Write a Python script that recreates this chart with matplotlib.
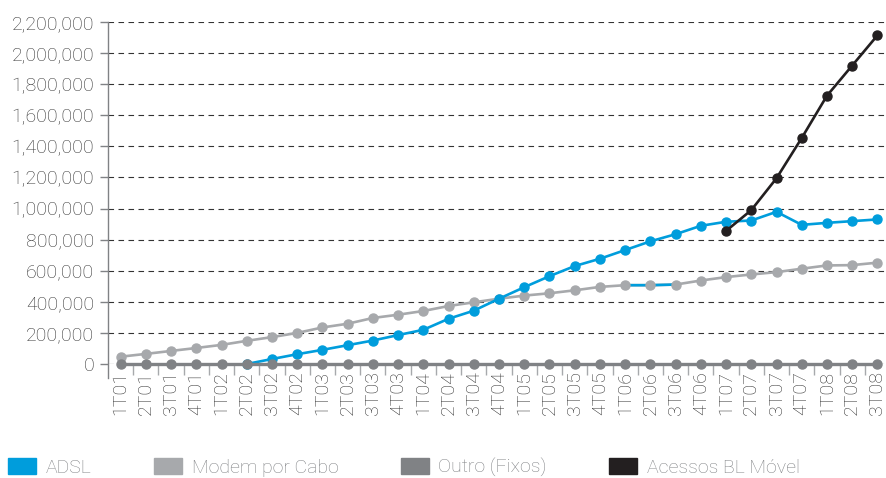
import matplotlib
matplotlib.use("Agg")
import matplotlib.pyplot as plt
from matplotlib.patches import Patch
from matplotlib.ticker import FuncFormatter, FixedLocator
import numpy as np

plt.rcParams['font.family'] = ['Roboto', 'DejaVu Sans']
plt.rcParams['font.weight'] = 'light'

# --- data ---
quarters = ["1T01", "2T01", "3T01", "4T01", "1T02", "2T02", "3T02", "4T02",
            "1T03", "2T03", "3T03", "4T03", "1T04", "2T04", "3T04", "4T04",
            "1T05", "2T05", "3T05", "4T05", "1T06", "2T06", "3T06", "4T06",
            "1T07", "2T07", "3T07", "4T07", "1T08", "2T08", "3T08"]

nan = np.nan
adsl = [nan, nan, nan, nan, nan, 0, 32000, 63000,
        91000, 121000, 151000, 186000, 220000, 291000, 343000, 420000,
        494000, 565000, 630000, 677000, 733000, 789000, 835000, 889000,
        915000, 923000, 979000, 895000, 908000, 919000, 930000]
cabo = [47000, 65000, 84000, 103000, 123000, 149000, 173000, 200000,
        235000, 259000, 296000, 317000, 341000, 373000, 397000, 420000,
        440000, 455000, 474000, 496000, 507000, 507000, 511000, 537000,
        559000, 576000, 591000, 613000, 634000, 636000, 652000]
outro = [0] * len(quarters)
movel = [nan] * 24 + [856000, 990000, 1195000, 1454000, 1726000, 1920000, 2114000]

labels = ["ADSL", "Modem por Cabo", "Outro (Fixos)", "Acessos BL Móvel"]
c_adsl, c_cabo, c_outro, c_movel = "#009ddc", "#a7a9ac", "#808285", "#231f20"

x = np.arange(len(quarters))

fig = plt.figure(figsize=(8.87, 4.78), dpi=100)
ax = fig.add_axes([108 / 887, 1 - 364 / 478, 777 / 887, 342 / 478])

lw, ms = 1.9, 6.5
# Modem por Cabo: line, then the odd blue stretch from the original, then markers
ax.plot(x, cabo, color=c_cabo, lw=lw, zorder=2, clip_on=False)
ax.plot(x[20:23], cabo[20:23], color=c_adsl, lw=lw, zorder=2.1, clip_on=False)
ax.plot(x, cabo, color=c_cabo, ls="none", marker="o", ms=ms, zorder=2.2, clip_on=False)
ax.plot(x, adsl, color=c_adsl, lw=lw, marker="o", ms=ms, zorder=3, clip_on=False)
ax.plot(x, movel, color=c_movel, lw=lw, marker="o", ms=ms, zorder=4, clip_on=False)
ax.plot(x, outro, color=c_outro, lw=2.4, marker="o", ms=ms, zorder=5, clip_on=False)

ax.set_xlim(-0.5, 30.3)
ax.set_ylim(0, 2200000)
ax.set_yticks(np.arange(0, 2200001, 200000))
ax.yaxis.set_major_formatter(FuncFormatter(lambda v, p: f"{int(v):,}"))
ax.yaxis.grid(True, color="#333333", lw=0.8, ls=(0, (5, 4)))
ax.set_axisbelow(True)

ax.set_xticks(x)
ax.set_xticklabels(quarters, rotation=90)
ax.xaxis.set_minor_locator(FixedLocator(x[:-1] + 0.5))
ax.tick_params(axis="x", which="major", length=0, pad=5, labelsize=14, labelcolor="#333333")
ax.tick_params(axis="x", which="minor", length=8, width=1, color="#a7a9ac")
ax.tick_params(axis="y", length=6, width=1, color="#808285", labelsize=14,
               labelcolor="#333333", pad=4)

for s in ["top", "right", "bottom"]:
    ax.spines[s].set_visible(False)
ax.spines["left"].set_color("#808285")
ax.spines["left"].set_linewidth(1)
ax.spines["left"].set_bounds(-90000, 2200000)

handles = [Patch(color=c) for c in (c_adsl, c_cabo, c_outro, c_movel)]
leg = fig.legend(handles, labels, loc="lower left", bbox_to_anchor=(0.0, -0.014),
                 ncol=4, frameon=False, fontsize=14, handlelength=1.45,
                 handleheight=0.85, handletextpad=0.5, columnspacing=3.2,
                 borderaxespad=0.0)
for t in leg.get_texts():
    t.set_color("#808285")

fig.savefig("out.png", dpi=100)
